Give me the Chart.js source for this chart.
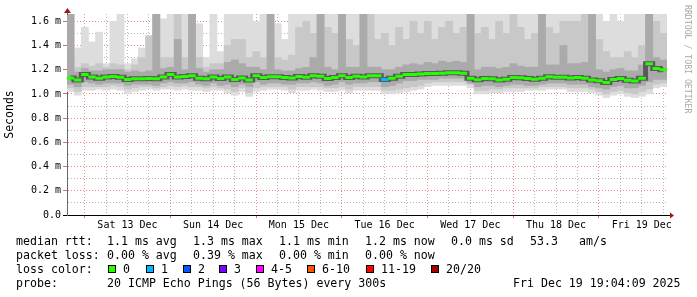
<!DOCTYPE html>
<html><head><meta charset="utf-8">
<script src="https://cdn.jsdelivr.net/npm/chart.js@4/dist/chart.umd.min.js"></script>
<style>
html,body{margin:0;padding:0;background:#fff;}
#wrap{position:relative;width:697px;height:297px;overflow:hidden;background:#fff;}
#c{position:absolute;left:0;top:0;}
.t{position:absolute;font-family:"DejaVu Sans Mono",monospace;font-size:11.6px;color:#000;white-space:pre;line-height:14px;}
.sw{position:absolute;width:6px;height:6px;border:1px solid #000;top:265px;}
#rrd{position:absolute;left:683px;top:5px;font-family:"DejaVu Sans Mono",monospace;font-size:8.2px;color:#a8a8a8;writing-mode:vertical-rl;white-space:pre;line-height:9px;}
</style></head>
<body>
<div id="wrap">
<canvas id="c" width="697" height="297"></canvas>
<div id="rrd">RRDTOOL / TOBI OETIKER</div>
<div class="t" style="left:16px;top:234px">median rtt:</div>
<div class="t" style="left:107px;top:234px">1.1 ms avg</div>
<div class="t" style="left:193px;top:234px">1.3 ms max</div>
<div class="t" style="left:279px;top:234px">1.1 ms min</div>
<div class="t" style="left:365px;top:234px">1.2 ms now</div>
<div class="t" style="left:451px;top:234px">0.0 ms sd</div>
<div class="t" style="left:530px;top:234px">53.3</div>
<div class="t" style="left:579px;top:234px">am/s</div>
<div class="t" style="left:16px;top:248px">packet loss:</div>
<div class="t" style="left:107px;top:248px">0.00 % avg</div>
<div class="t" style="left:193px;top:248px">0.39 % max</div>
<div class="t" style="left:279px;top:248px">0.00 % min</div>
<div class="t" style="left:365px;top:248px">0.00 % now</div>
<div class="t" style="left:16px;top:262px">loss color:</div>
<div id="lossLegend"></div>
<div class="t" style="left:16px;top:276px">probe:</div>
<div class="t" style="left:107px;top:276px">20 ICMP Echo Pings (56 Bytes) every 300s</div>
<div class="t" style="left:513px;top:276px">Fri Dec 19 19:04:09 2025</div>
</div>
<script>
// ---- data (2-hour bins, 12 Dec 19:04 -> 19 Dec 19:04), values in ms ----
const med = [1.132,1.115,1.16,1.14,1.13,1.14,1.144,1.138,1.12,1.125,1.125,1.128,1.125,1.14,
1.16,1.14,1.143,1.15,1.13,1.125,1.14,1.127,1.14,1.12,1.132,1.115,1.15,1.135,
1.142,1.142,1.135,1.132,1.143,1.138,1.15,1.145,1.127,1.135,1.15,1.135,1.145,1.14,
1.15,1.15,1.12,1.13,1.145,1.16,1.16,1.165,1.168,1.168,1.17,1.175,1.174,1.17,
1.13,1.116,1.128,1.125,1.115,1.122,1.135,1.133,1.127,1.122,1.13,1.142,1.138,1.138,
1.132,1.135,1.13,1.115,1.108,1.094,1.12,1.128,1.112,1.107,1.13,1.25,1.21,1.2];
const maxv = [1.66,1.38,1.55,1.43,1.51,1.25,1.6,1.66,1.25,1.29,1.38,1.48,1.66,1.62,
1.66,1.66,1.66,1.66,1.58,1.3,1.66,1.35,1.66,1.66,1.66,1.66,1.6,1.66,
1.66,1.58,1.45,1.66,1.66,1.66,1.66,1.66,1.66,1.66,1.66,1.66,1.66,1.66,
1.66,1.66,1.66,1.66,1.66,1.66,1.66,1.66,1.66,1.66,1.66,1.66,1.66,1.66,
1.66,1.66,1.66,1.66,1.66,1.66,1.66,1.66,1.66,1.66,1.66,1.66,1.66,1.66,
1.66,1.66,1.66,1.66,1.66,1.6,1.66,1.6,1.66,1.66,1.66,1.66,1.66,1.66];
const p75 = [1.3,1.22,1.25,1.23,1.25,1.22,1.25,1.24,1.2,1.24,1.3,1.48,1.66,1.3,
1.3,1.66,1.3,1.66,1.3,1.22,1.25,1.25,1.4,1.45,1.45,1.3,1.35,1.3,
1.45,1.3,1.28,1.32,1.55,1.6,1.5,1.66,1.55,1.5,1.66,1.45,1.4,1.66,
1.66,1.45,1.5,1.4,1.55,1.45,1.6,1.5,1.6,1.45,1.55,1.6,1.5,1.55,
1.66,1.5,1.55,1.45,1.6,1.5,1.66,1.55,1.45,1.5,1.66,1.55,1.5,1.6,
1.6,1.6,1.66,1.66,1.45,1.35,1.3,1.3,1.35,1.3,1.4,1.66,1.6,1.5];
const hiCore = [1.66,1.18,1.21,1.19,1.19,1.2,1.2,1.2,1.18,1.19,1.18,1.19,1.66,1.21,
1.22,1.45,1.2,1.66,1.21,1.18,1.2,1.2,1.26,1.28,1.25,1.22,1.22,1.2,
1.66,1.2,1.19,1.19,1.21,1.22,1.3,1.66,1.22,1.2,1.66,1.22,1.22,1.66,
1.22,1.22,1.2,1.2,1.22,1.24,1.25,1.24,1.26,1.25,1.27,1.26,1.27,1.26,
1.66,1.2,1.22,1.22,1.21,1.22,1.25,1.23,1.22,1.22,1.66,1.24,1.24,1.4,
1.25,1.25,1.26,1.66,1.2,1.18,1.2,1.21,1.19,1.19,1.24,1.66,1.3,1.28];
const lowCore = [1.08,1.06,1.10,1.09,1.08,1.09,1.09,1.09,1.07,1.08,1.08,1.08,1.07,1.09,
1.10,1.09,1.09,1.1,1.08,1.07,1.09,1.07,1.08,1.06,1.08,1.06,1.1,1.08,
1.09,1.09,1.08,1.08,1.09,1.09,1.1,1.09,1.07,1.08,1.1,1.08,1.09,1.09,
1.1,1.1,1.06,1.07,1.09,1.11,1.11,1.12,1.12,1.12,1.13,1.13,1.13,1.13,
1.09,1.06,1.07,1.07,1.06,1.07,1.08,1.08,1.07,1.07,1.08,1.09,1.09,1.09,
1.08,1.08,1.08,1.06,1.05,1.04,1.06,1.07,1.05,1.05,1.07,1.1,1.12,1.12];
const lowB = [1.05,1.02,1.06,1.06,1.06,1.06,1.07,1.06,1.04,1.05,1.06,1.06,1.05,1.06,
1.07,1.06,1.07,1.06,1.06,1.05,1.06,1.05,1.04,1.02,1.05,1.01,1.05,1.06,
1.06,1.06,1.06,1.04,1.06,1.06,1.06,1.06,1.05,1.05,1.06,1.04,1.06,1.06,
1.06,1.06,1.03,1.03,1.04,1.05,1.06,1.07,1.09,1.1,1.1,1.1,1.1,1.1,
1.08,1.03,1.03,1.04,1.04,1.05,1.05,1.05,1.05,1.05,1.06,1.06,1.06,1.06,
1.05,1.05,1.05,1.04,1.02,1.0,1.02,1.03,1.01,1.0,1.02,1.04,1.08,1.09];
const minv = [1.02,0.99,1.03,1.03,1.04,1.03,1.04,1.03,1.0,1.02,1.03,1.04,1.03,1.04,
1.04,1.03,1.04,1.03,1.03,1.02,1.03,1.03,1.01,0.99,1.02,0.98,1.02,1.03,
1.04,1.04,1.03,1.01,1.03,1.03,1.04,1.03,1.02,1.02,1.03,1.01,1.03,1.03,
1.03,1.03,1.0,1.0,1.01,1.02,1.03,1.04,1.06,1.07,1.07,1.07,1.07,1.07,
1.05,1.0,1.0,1.01,1.01,1.02,1.02,1.02,1.03,1.03,1.03,1.04,1.04,1.04,
1.02,1.02,1.02,1.01,0.99,0.97,0.99,1.0,0.98,0.97,0.98,1.0,1.05,1.06];
const loss = [0,0,0,0,0,0,0,0,0,0,0,0,0,0, 0,0,0,0,0,0,0,0,0,0,0,0,0,0,
0,0,0,0,0,0,0,0,0,0,0,0,0,0, 0,0,1,0,0,0,0,0,0,0,0,0,0,0,
0,0,0,0,0,0,0,0,0,0,0,0,0,0, 0,0,0,0,0,0,0,0,0,0,0,0,0,0];
const binNames = med.map((_, i) => 'bin' + i);
const dayLabels = ['Sat 13 Dec','Sun 14 Dec','Mon 15 Dec','Tue 16 Dec','Wed 17 Dec','Thu 18 Dec','Fri 19 Dec'];
const tickHours = [0,6,12,18,24,30,36,42,48,54,60,66,72,78,84,90,96,102,108,114,120,126,132,138,144,150,156,162];
const yTickVals = [0,0.1,0.2,0.3,0.4,0.5,0.6,0.7,0.8,0.9,1.0,1.1,1.2,1.3,1.4,1.5,1.6];
const lossNames = ['0','1','2','3','4-5','6-10','11-19','20/20'];
const lossColors = ['#26ff00','#00b8ff','#0059ff','#7e00ff','#ff00ff','#ff5500','#ff0000','#a10000'];

// legend swatches
const swX = [108,146,183,219,256,307,366,431];
const ll = document.getElementById('lossLegend');
lossNames.forEach((n, i) => {
  const s = document.createElement('div'); s.className = 'sw';
  s.style.left = swX[i] + 'px'; s.style.background = lossColors[i]; ll.appendChild(s);
  const t = document.createElement('div'); t.className = 't';
  t.style.left = (swX[i] + 15) + 'px'; t.style.top = '262px'; t.textContent = n; ll.appendChild(t);
});

const MAJOR = 'rgba(225,120,120,0.85)';
const MINOR = 'rgba(175,175,175,0.9)';
const mono = {family: '"DejaVu Sans Mono", monospace', size: 10};

const arrows = {
  id: 'arrows',
  afterDraw(chart) {
    const {ctx, chartArea: a} = chart;
    ctx.save();
    ctx.strokeStyle = '#000'; ctx.lineWidth = 1;
    ctx.beginPath(); ctx.moveTo(a.right, a.bottom + 0.5); ctx.lineTo(a.right + 4, a.bottom + 0.5); ctx.stroke();
    ctx.fillStyle = '#a01818';
    ctx.beginPath(); ctx.moveTo(a.right + 3, a.bottom - 2.5); ctx.lineTo(a.right + 7, a.bottom + 0.5); ctx.lineTo(a.right + 3, a.bottom + 3.5); ctx.closePath(); ctx.fill();
    ctx.beginPath(); ctx.moveTo(a.left - 3, a.top - 1); ctx.lineTo(a.left + 0.5, a.top - 6); ctx.lineTo(a.left + 4, a.top - 1); ctx.closePath(); ctx.fill();
    ctx.strokeStyle = '#666';
    ctx.beginPath(); ctx.moveTo(a.left + 0.5, a.top - 1); ctx.lineTo(a.left + 0.5, a.top + 1); ctx.stroke();
    ctx.restore();
  }
};

const barCommon = {type: 'bar', xAxisID: 'xb', yAxisID: 'y', grouped: false, barPercentage: 1, categoryPercentage: 1, borderWidth: 0};

new Chart(document.getElementById('c'), {
  data: {
    labels: binNames,
    datasets: [
      {label: 'green', type: 'line', data: med, showLine: false, pointStyle: 'line', pointRadius: 3.7, pointHoverRadius: 3.7,
        pointBorderWidth: 3, pointHoverBorderWidth: 3, pointBorderColor: loss.map(l => lossColors[l]), xAxisID: 'xb', yAxisID: 'y', order: 1},
      {label: 'medband', type: 'line', data: med, stepped: 'middle', borderColor: '#5a5a5a', borderWidth: 5, pointRadius: 0, xAxisID: 'xb', yAxisID: 'y', order: 2},
      Object.assign({label: 'core', data: hiCore.map((v, i) => [lowCore[i], v]), backgroundColor: '#aaaaaa', order: 3}, barCommon),
      Object.assign({label: 'mid', data: p75.map((v, i) => [lowB[i], v]), backgroundColor: '#c8c8c8', order: 4}, barCommon),
      Object.assign({label: 'light', data: maxv.map((v, i) => [minv[i], v]), backgroundColor: '#dddddd', order: 5}, barCommon)
    ]
  },
  options: {
    responsive: false, animation: false, devicePixelRatio: 1,
    layout: {padding: {left: 0, top: 14, right: 30, bottom: 62}},
    plugins: {legend: {display: false}, tooltip: {enabled: false}},
    scales: {
      xb: {type: 'category', display: false, offset: true},
      x: {
        type: 'linear', position: 'bottom', min: -4.931, max: 163.069, z: 1,
        afterBuildTicks: s => { s.ticks = tickHours.map(v => ({value: v})); },
        afterFit: s => { s.height = 20; },
        ticks: {autoSkip: false, maxRotation: 0, padding: 1, color: '#000', font: mono,
          callback: v => (v % 24 === 12 ? dayLabels[(v - 12) / 24] : '')},
        grid: {color: c => (c.tick && c.tick.value % 24 === 0 ? MAJOR : MINOR), lineWidth: 1, drawTicks: true, tickLength: 3,
          tickColor: c => (c.tick && c.tick.value % 24 === 0 ? '#d07070' : 'rgba(0,0,0,0)')},
        border: {display: true, color: '#000', width: 1, dash: [1, 2]}
      },
      y: {
        type: 'linear', min: 0, max: 1.66, z: 1,
        afterBuildTicks: s => { s.ticks = yTickVals.map(v => ({value: v})); },
        afterFit: s => { s.width = 67; },
        ticks: {autoSkip: false, padding: 2, color: '#000', font: mono,
          callback: v => { const k = Math.round(v * 10); return k % 2 === 0 ? (k === 0 ? '0.0' : (k / 10).toFixed(1) + ' m') : ''; }},
        grid: {color: c => { if (!c.tick) return MINOR; const k = Math.round(c.tick.value * 10); return k === 0 ? 'rgba(0,0,0,0)' : (k % 2 === 0 ? MAJOR : MINOR); },
          lineWidth: 1, drawTicks: true, tickLength: 4,
          tickColor: c => { if (!c.tick) return 'rgba(0,0,0,0)'; const k = Math.round(c.tick.value * 10); return k === 0 ? '#000' : (k % 2 === 0 ? '#d07070' : 'rgba(0,0,0,0)'); }},
        border: {display: true, color: '#666', width: 1, dash: [1, 2]},
        title: {display: true, text: 'Seconds', color: '#000', font: {family: '"DejaVu Sans Mono", monospace', size: 11.5}, padding: {top: 3, bottom: 0}}
      }
    }
  },
  plugins: [arrows]
});
</script>
</body></html>
